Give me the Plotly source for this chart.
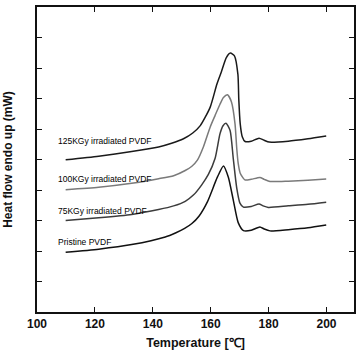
import plotly.graph_objects as go

# Temperature (°C) / heat flow (arbitrary offsets)
t_125 = [109.9, 121.3, 132.7, 142.0, 146.5, 150.6, 153.8, 156.4, 159.8, 162.1, 163.7, 165.4, 166.8, 168.2, 169.4, 169.7, 170.2, 170.9, 171.9, 174.0, 176.7, 178.5, 180.2, 186.8, 193.6, 199.9]
v_125 = [4.99, 5.11, 5.26, 5.41, 5.53, 5.68, 5.87, 6.11, 6.71, 7.46, 7.88, 8.34, 8.49, 8.40, 7.79, 6.98, 6.17, 5.75, 5.59, 5.60, 5.70, 5.63, 5.57, 5.60, 5.68, 5.77]

t_100 = [109.9, 121.3, 132.7, 142.0, 147.2, 151.2, 153.5, 155.4, 157.5, 159.8, 161.5, 163.2, 164.4, 165.8, 167.2, 168.4, 169.0, 169.5, 170.2, 171.8, 174.0, 177.0, 178.5, 180.5, 186.8, 193.6, 199.9]
v_100 = [4.01, 4.09, 4.22, 4.37, 4.47, 4.64, 4.78, 4.98, 5.42, 6.06, 6.44, 6.81, 7.03, 7.12, 6.88, 6.17, 5.36, 4.87, 4.55, 4.33, 4.35, 4.41, 4.35, 4.28, 4.29, 4.32, 4.36]

t_75 = [109.9, 121.3, 132.7, 142.0, 147.2, 151.2, 154.2, 156.9, 159.2, 161.5, 163.2, 164.2, 165.3, 166.7, 167.8, 169.0, 170.1, 171.3, 174.0, 176.7, 178.1, 179.9, 186.8, 193.6, 199.9]
v_75 = [3.00, 3.09, 3.20, 3.36, 3.48, 3.63, 3.85, 4.17, 4.51, 5.03, 5.84, 6.10, 6.19, 5.95, 5.03, 4.06, 3.57, 3.44, 3.46, 3.54, 3.48, 3.43, 3.48, 3.53, 3.60]

t_pr = [109.9, 121.3, 132.7, 144.3, 148.0, 151.0, 153.5, 156.0, 158.9, 162.3, 164.4, 166.1, 167.8, 169.5, 171.3, 174.0, 177.0, 178.5, 180.5, 186.8, 193.6, 199.9]
v_pr = [1.96, 2.06, 2.21, 2.46, 2.60, 2.74, 2.90, 3.15, 3.62, 4.42, 4.79, 4.42, 3.67, 2.93, 2.67, 2.68, 2.79, 2.72, 2.66, 2.70, 2.76, 2.85]

labels = ["125KGy irradiated PVDF", "100KGy irradiated PVDF", "75KGy irradiated PVDF", "Pristine PVDF"]
label_y = [5.61, 4.36, 3.31, 2.28]
x_ticks = [100, 120, 140, 160, 180, 200]
y_ticks = list(range(0, 11))

series = [(t_125, v_125, "#1a1a1a"), (t_100, v_100, "#7a7a7a"), (t_75, v_75, "#3c3c3c"), (t_pr, v_pr, "#111111")]

fig = go.Figure()
for (t, v, c), name in zip(series, labels):
    fig.add_trace(go.Scatter(x=t, y=v, mode="lines", name=name,
                             line=dict(color=c, width=1.5, shape="spline", smoothing=0.6)))

for lab, yy in zip(labels, label_y):
    fig.add_annotation(x=106.4, y=yy, text=lab, showarrow=False, xanchor="left", yanchor="middle",
                       font=dict(family="Liberation Sans, Arial", size=8.5, color="#000"))

fig.update_layout(
    width=361, height=353,
    margin=dict(l=37, r=5, t=7, b=38),
    paper_bgcolor="white", plot_bgcolor="white",
    showlegend=False,
    font=dict(family="Liberation Sans, Arial", color="#111"),
)
fig.update_xaxes(range=[100, 209.5], tickvals=x_ticks, ticktext=["<b>%d</b>" % v for v in x_ticks],
                 ticks="inside", ticklen=5, tickwidth=1.2, tickcolor="#111",
                 showline=True, linecolor="#111", linewidth=1.5, mirror="ticks",
                 showgrid=False, zeroline=False, tickfont=dict(size=12),
                 title=dict(text="<b>Temperature [℃]</b>", font=dict(size=12.5), standoff=8))
fig.update_yaxes(range=[0, 10], tickvals=y_ticks, showticklabels=False,
                 ticks="inside", ticklen=5, tickwidth=1.2, tickcolor="#111",
                 showline=True, linecolor="#111", linewidth=1.5, mirror="ticks",
                 showgrid=False, zeroline=False,
                 title=dict(text="<b>Heat flow endo up (mW)</b>", font=dict(size=12), standoff=20))

fig.write_html("out.html")
